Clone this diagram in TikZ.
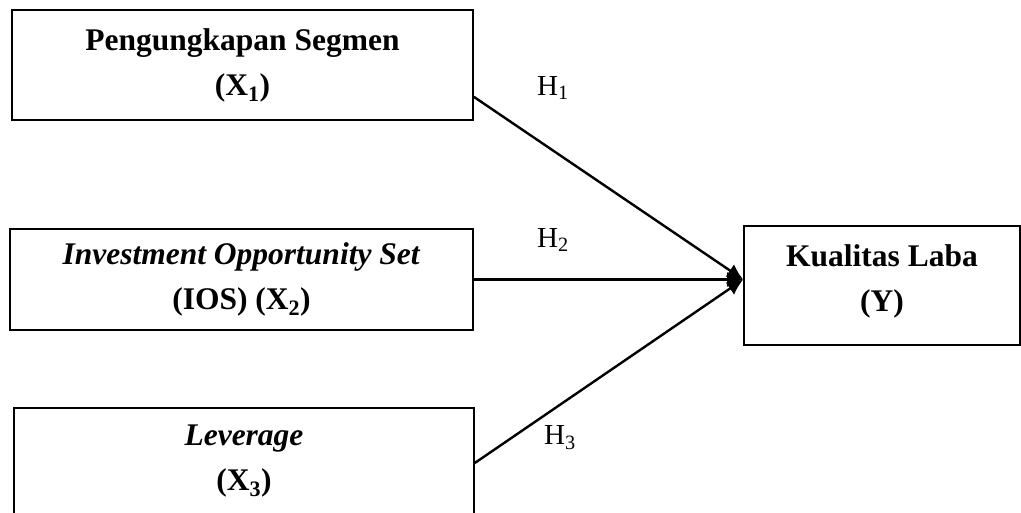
\documentclass[tikz,border=0pt]{standalone}
\usepackage{fontspec}
\setmainfont{Liberation Serif}
\usepackage{tikz}
\usetikzlibrary{calc}
\usetikzlibrary{arrows.meta}
\tikzset{
  varbox/.style={draw, line width=1.6pt, align=center, inner sep=0pt,
    font=\fontsize{31.5}{45}\selectfont\bfseries},
  hyp/.style={font=\fontsize{29}{32}\selectfont},
  link/.style={line width=2.4pt, -{Latex[length=16pt,width=15pt]}}
}

\begin{document}
\begin{tikzpicture}[x=1pt, y=-1pt]
        \clip (0,0) rectangle (1021,513);
        \useasboundingbox (0,0) rectangle (1021,513);
        % variables
        \node[varbox, minimum width=461pt, minimum height=110pt] (x1) at (242.5,65)
            {Pengungkapan Segmen\\(X\textsubscript{1})};
        \node[varbox, minimum width=463pt, minimum height=101pt] (x2) at (241.5,279.5)
            {\textit{Investment Opportunity Set}\\(IOS) (X\textsubscript{2})};
        \node[varbox, minimum width=460pt, minimum height=130pt, anchor=north,
            text depth=30pt] (x3) at (244,407)
            {\textit{Leverage}\\(X\textsubscript{3})};
        \node[varbox, minimum width=276pt, minimum height=119pt,
            text depth=14pt] (y) at (882,285.5)
            {Kualitas Laba\\(Y)};
        % hypotheses
        \coordinate (s1) at ($(x1.south east)+(0,-24)$);
        \coordinate (s3) at ($(x3.north east)+(0,56)$);
        \coordinate (t) at ($(y.west)+(0,-6)$);
        \draw[link] (s1) -- (t);
        \draw[link] (x2.east) -- (t);
        \draw[link] (s3) -- (t);
        \node[hyp] (h1) at (553,88) {H\textsubscript{1}};
        \node[hyp] (h2) at (553,240) {H\textsubscript{2}};
        \node[hyp] (h3) at (560,438) {H\textsubscript{3}};
    \end{tikzpicture}
\end{document}
